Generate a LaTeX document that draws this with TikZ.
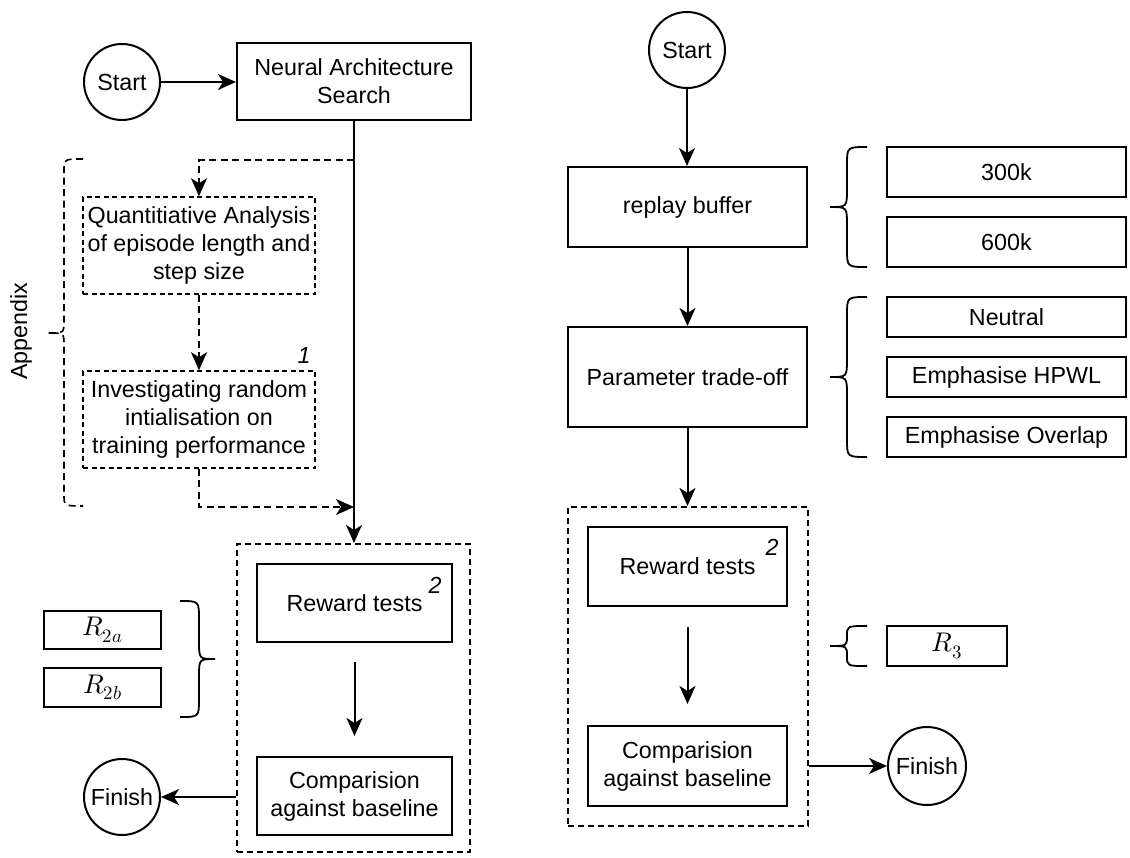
\documentclass[tikz,border=0pt]{standalone}
\usepackage{fontspec}
\usepackage{unicode-math}
\setmainfont{Liberation Sans}
\setmathfont{Latin Modern Math}
\usetikzlibrary{arrows.meta}

% main text size of the diagram
\newcommand\diagfont{\fontsize{23.3}{28}\selectfont}
\newcommand\mathlabelfont{\fontsize{27}{32}\selectfont}

% curly brace: #1 style, #2 tip x, #3 spine x, #4 end x, #5 top y, #6 middle y, #7 bottom y, #8 corner radius
\newcommand\bracepathL[8]{%
  \draw[#1] (#4,#5) .. controls (#3,#5) .. (#3,#5+#8) -- (#3,#6-#8)
    .. controls (#3,#6) .. (#2,#6)
    .. controls (#3,#6) .. (#3,#6+#8) -- (#3,#7-#8)
    .. controls (#3,#7) .. (#4,#7);}

\begin{document}
\begin{tikzpicture}[x=1pt,y=-1pt,
  base/.style={draw, line width=2pt, align=center, inner sep=0pt, font=\diagfont},
  stepbox/.style={base, rectangle},
  dashbox/.style={base, rectangle, line width=1.6pt, dash pattern=on 5pt off 3.5pt},
  groupbox/.style={draw, line width=2pt, dash pattern=on 6pt off 4pt, inner sep=0pt},
  terminal/.style={base, circle, minimum size=76pt},
  optbox/.style={stepbox, minimum width=239pt},
  mathbox/.style={draw, line width=2pt, inner sep=0pt, font=\mathlabelfont},
  tag/.style={font=\diagfont\itshape, inner sep=0pt},
  flow/.style={line width=2pt, -{Stealth[length=18pt,width=16pt,inset=5pt]}},
  dashflow/.style={flow, line width=1.8pt, dash pattern=on 7pt off 4.5pt},
  brace/.style={line width=1.8pt},
  dashbrace/.style={line width=1.6pt, dash pattern=on 7pt off 4.5pt}]

\useasboundingbox (0,0) rectangle (1130,857);
\fill[white] (0,0) rectangle (1130,857);

% ---------- left flow ----------
\node[terminal] (startL) at (122,82) {Start};
\node[stepbox, minimum width=234pt, minimum height=77pt] (nas) at (354,81.5) {Neural Architecture\\Search};
\node[dashbox, minimum width=232pt, minimum height=97pt] (quant) at (199,245.5)
  {Quantitiative Analysis\\of episode length and\\step size};
\node[dashbox, minimum width=232pt, minimum height=97pt] (invest) at (199,419.5)
  {Investigating random\\intialisation on\\training performance};
\node[tag] (tag1) at (304,355) {1};

\node[groupbox, minimum width=233pt, minimum height=308pt] (contL) at (353.5,698) {};
\node[stepbox, minimum width=195pt, minimum height=78pt] (rewL) at (354.5,603) {Reward tests};
\node[tag] (tag2L) at (435,585) {2};
\node[stepbox, minimum width=195pt, minimum height=78pt] (compL) at (354.5,796) {Comparision\\against baseline};
\node[terminal] (finL) at (122,797) {Finish};

\node[mathbox, minimum width=117pt, minimum height=38pt] (r2a) at (102.5,630) {$R_{2a}$};
\node[mathbox, minimum width=117pt, minimum height=39pt] (r2b) at (102.5,687.5) {$R_{2b}$};

\node[font=\diagfont, rotate=90, inner sep=0pt] (appx) at (21,331) {Appendix};

% connectors on the left
\draw[flow] (startL) -- (nas.west |- startL);
\draw[flow] (nas.south) -- (nas.south |- contL.north);
\path (nas.south) ++(0,39) coordinate (split);
\path (nas.south) ++(0,386) coordinate (join);
\draw[dashflow] (split) -| (quant.north);
\draw[dashflow] (quant) -- (invest);
\draw[dashflow] (invest.south) |- (join);
\draw[flow, shorten <=19pt, shorten >=20pt] (rewL) -- (compL);
\draw[flow] (contL.west |- finL) -- (finL);

% braces on the left
\bracepathL{dashbrace}{48}{64}{83}{159}{333}{506}{12}
\bracepathL{brace}{215}{199}{180}{601}{659}{717}{18}

% ---------- right flow ----------
\node[terminal] (startR) at (687,50) {Start};
\node[stepbox, minimum width=239pt, minimum height=80pt] (replay) at (687.5,207) {replay buffer};
\node[stepbox, minimum width=239pt, minimum height=100pt] (param) at (687.5,377) {Parameter trade-off};

\node[groupbox, minimum width=240pt, minimum height=319pt] (contR) at (688,666.5) {};
\node[stepbox, minimum width=199pt, minimum height=79pt] (rewR) at (687.5,566.5) {Reward tests};
\node[tag] (tag2R) at (772,547) {2};
\node[stepbox, minimum width=199pt, minimum height=80pt] (compR) at (687.5,766) {Comparision\\against baseline};
\node[terminal, minimum size=78pt] (finR) at (927,766) {Finish};

\node[optbox, minimum height=50pt] (k300) at (1006.5,172) {300k};
\node[optbox, minimum height=50pt] (k600) at (1006.5,242) {600k};
\node[optbox, minimum height=40pt] (neutral) at (1006.5,317) {Neutral};
\node[optbox, minimum height=40pt] (hpwl) at (1006.5,377) {Emphasise HPWL};
\node[optbox, minimum height=40pt] (overlap) at (1006.5,437) {Emphasise Overlap};
\node[mathbox, minimum width=120pt, minimum height=40pt] (r3) at (947,646) {$R_3$};

% connectors on the right
\draw[flow] (startR) -- (startR |- replay.north);
\draw[flow] (replay) -- (param);
\draw[flow] (param) -- (param |- contR.north);
\draw[flow, shorten <=20pt, shorten >=21pt] (rewR) -- (compR);
\draw[flow] (contR.east |- finR) -- (finR);

% braces on the right
\bracepathL{brace}{830}{847}{867}{147}{207}{267}{18}
\bracepathL{brace}{830}{847}{867}{297}{377}{457}{18}
\bracepathL{brace}{830}{847}{867}{626}{646}{666}{10}

\end{tikzpicture}
\end{document}
